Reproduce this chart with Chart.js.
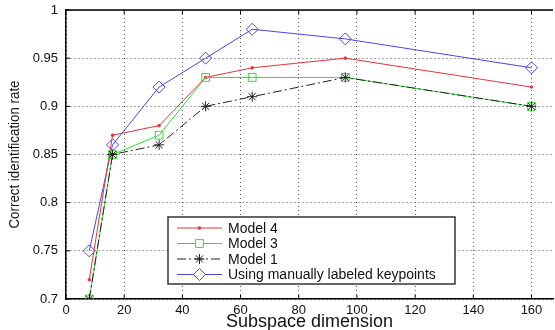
<!DOCTYPE html>
<html><head><meta charset="utf-8">
<script src="https://cdn.jsdelivr.net/npm/chart.js@4/dist/chart.umd.min.js"></script>
<style>html,body{margin:0;padding:0;background:#fff;overflow:hidden}#w{width:560px;height:330px}</style>
</head><body><div id="w"><canvas id="c"></canvas></div>
<script>
const dims = [8, 16, 32, 48, 64, 96, 160];
const model4 = [0.72, 0.87, 0.88, 0.93, 0.94, 0.95, 0.92];
const model3 = [0.70, 0.85, 0.87, 0.93, 0.93, 0.93, 0.90];
const model1 = [0.70, 0.85, 0.86, 0.90, 0.91, 0.93, 0.90];
const manual = [0.75, 0.86, 0.92, 0.95, 0.98, 0.97, 0.94];
const names = ['Model 4', 'Model 3', 'Model 1', 'Using manually labeled keypoints'];
const xTicks = [0, 20, 40, 60, 80, 100, 120, 140, 160];
const yTicks = [0.7, 0.75, 0.8, 0.85, 0.9, 0.95, 1];
const xTitle = 'Subspace dimension';
const yTitle = 'Correct identification rate';

const pts = v => dims.map((d, i) => ({x: d, y: v[i]}));
const FONT = '"Liberation Sans", Arial, sans-serif';

const styles = [
  {borderColor: '#e8303a', pointStyle: 'circle', pointRadius: 1.3, borderDash: [], bg: '#e8303a'},
  {borderColor: '#2ee02e', pointStyle: 'rect', pointRadius: 5.5, borderDash: [], bg: 'rgba(0,0,0,0)'},
  {borderColor: '#222222', pointStyle: 'star', pointRadius: 5, borderDash: [9, 3, 2, 3], bg: 'rgba(0,0,0,0)'},
  {borderColor: '#4646e8', pointStyle: 'rectRot', pointRadius: 6, borderDash: [], bg: 'rgba(0,0,0,0)'}
];
const series = [model4, model3, model1, manual];
const drawOrder = [3, 2, 1, 4];

const datasets = series.map((s, i) => ({
  label: names[i],
  data: pts(s),
  borderColor: styles[i].borderColor,
  backgroundColor: styles[i].bg,
  pointBorderColor: styles[i].borderColor,
  pointBackgroundColor: styles[i].bg,
  pointStyle: styles[i].pointStyle,
  pointRadius: styles[i].pointRadius,
  pointBorderWidth: 1,
  borderWidth: 1,
  borderDash: styles[i].borderDash,
  tension: 0,
  order: drawOrder[i]
}));

const frame = {
  id: 'frame',
  afterDatasetsDraw(chart) {
    const {ctx, chartArea: a} = chart;
    ctx.save();
    ctx.strokeStyle = '#000';
    ctx.lineWidth = 1.5;
    ctx.beginPath();
    ctx.moveTo(a.left, a.top);
    ctx.lineTo(a.right, a.top);
    ctx.stroke();
    ctx.lineWidth = 1;
    const xs = chart.scales.x, ys = chart.scales.y;
    xTicks.forEach(t => {
      const px = xs.getPixelForValue(t);
      ctx.beginPath(); ctx.moveTo(px, a.bottom); ctx.lineTo(px, a.bottom - 4); ctx.stroke();
      ctx.beginPath(); ctx.moveTo(px, a.top); ctx.lineTo(px, a.top + 4); ctx.stroke();
    });
    yTicks.forEach(t => {
      const py = ys.getPixelForValue(t);
      ctx.beginPath(); ctx.moveTo(a.left, py); ctx.lineTo(a.left + 4, py); ctx.stroke();
    });
    // y axis title, condensed like the original
    ctx.translate(15, (a.top + a.bottom) / 2);
    ctx.rotate(-Math.PI / 2);
    ctx.font = '14px ' + FONT;
    const w = ctx.measureText(yTitle).width;
    ctx.scale(148 / w, 1);
    ctx.fillStyle = '#111';
    ctx.textAlign = 'center';
    ctx.textBaseline = 'middle';
    ctx.fillText(yTitle, 0, 0);
    ctx.restore();
  }
};

const legendBox = {
  id: 'legendBox',
  afterDraw(chart) {
    const {ctx} = chart;
    const L = 168, T = 217, R = 455, B = 284;
    ctx.save();
    ctx.fillStyle = '#fff';
    ctx.fillRect(L, T, R - L, B - T);
    ctx.strokeStyle = '#333';
    ctx.lineWidth = 1.5;
    ctx.strokeRect(L, T, R - L, B - T);
    const rows = [228, 243.5, 259, 274.5];
    names.forEach((n, i) => {
      const y = rows[i];
      const st = styles[i];
      ctx.strokeStyle = st.borderColor;
      ctx.lineWidth = 1;
      ctx.setLineDash(st.borderDash);
      ctx.beginPath(); ctx.moveTo(177, y); ctx.lineTo(222, y); ctx.stroke();
      ctx.setLineDash([]);
      ctx.fillStyle = st.bg === 'rgba(0,0,0,0)' ? '#fff' : st.bg;
      ctx.strokeStyle = st.borderColor;
      Chart.helpers.drawPoint(ctx, {pointStyle: st.pointStyle, radius: st.pointRadius, borderWidth: 1, rotation: 0}, 199.5, y);
      ctx.fillStyle = '#111';
      ctx.font = '14px ' + FONT;
      ctx.textBaseline = 'middle';
      ctx.textAlign = 'left';
      ctx.fillText(n, 228, y + 1);
    });
    ctx.restore();
  }
};

new Chart(document.getElementById('c'), {
  type: 'line',
  data: {datasets},
  plugins: [frame, legendBox],
  options: {
    responsive: true,
    maintainAspectRatio: false,
    animation: false,
    layout: {padding: {top: 10, right: 0, left: 0, bottom: 0}},
    plugins: {legend: {display: false}, tooltip: {enabled: false}},
    scales: {
      x: {
        type: 'linear',
        min: 0,
        max: 167.4,
        afterBuildTicks: s => { s.ticks = xTicks.map(v => ({value: v})); },
        afterFit: s => { s.height = 31; s.paddingLeft = 0; s.paddingRight = 0; },
        ticks: {color: '#111', font: {family: FONT, size: 13}, padding: 4, maxRotation: 0, autoSkip: false},
        grid: {color: '#555', lineWidth: 1, drawTicks: false},
        border: {display: true, color: '#000', width: 1.5, dash: [1, 3]},
        title: {display: true, text: xTitle, color: '#111', font: {family: FONT, size: 18}, padding: {top: -3, bottom: -3}}
      },
      y: {
        type: 'linear',
        min: 0.7,
        max: 1,
        afterBuildTicks: s => { s.ticks = yTicks.map(v => ({value: v})); },
        afterFit: s => { s.width = 66; s.paddingTop = 0; s.paddingBottom = 0; },
        ticks: {color: '#111', font: {family: FONT, size: 13}, padding: 8, callback: v => String(+v.toFixed(2))},
        grid: {color: '#555', lineWidth: 1, drawTicks: false},
        border: {display: true, color: '#000', width: 1.5, dash: [1, 3]},
        title: {display: false}
      }
    }
  }
});
</script>
</body></html>
